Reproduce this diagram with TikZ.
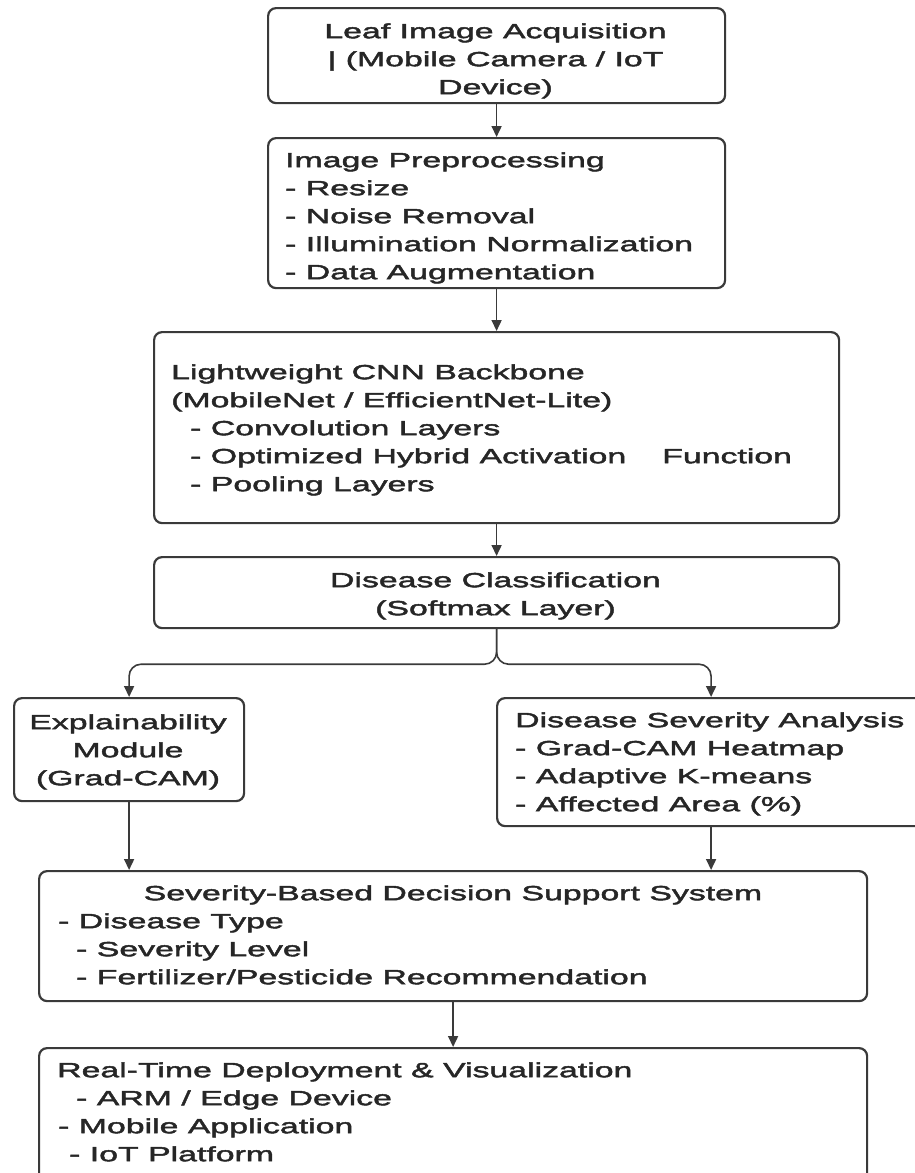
\documentclass[tikz,border=0pt]{standalone}
\usepackage{fontspec}
\setmainfont{Liberation Sans}[FakeStretch=1.65,FakeBold=2.2]
\usetikzlibrary{arrows.meta}
\definecolor{ln}{HTML}{3A3A3A}
\definecolor{tx}{HTML}{262626}
\tikzset{
  box/.style={draw=ln, line width=2.2pt, rounded corners=8pt, inner sep=0pt, anchor=north west},
  txt/.style={text=tx, inner sep=0pt, font=\fontsize{20.5}{28}\selectfont},
  arr/.style={draw=ln, line width=1.6pt, -{Triangle[length=11pt,width=10pt]}},
}
\begin{document}
\begin{tikzpicture}[x=1pt,y=-1pt]
\useasboundingbox (0,0) rectangle (915,1173);
\clip (0,0) rectangle (915,1173);
% boxes
\node[box, minimum width=457pt, minimum height=95pt]  (b1) at (267,7) {};
\node[box, minimum width=457pt, minimum height=150pt] (b2) at (267,137) {};
\node[box, minimum width=685pt, minimum height=191pt] (b3) at (153,331) {};
\node[box, minimum width=685pt, minimum height=71pt]  (b4) at (153,556) {};
\node[box, minimum width=230pt, minimum height=103pt] (b5) at (13,697) {};
\node[box, minimum width=428pt, minimum height=128pt] (b6) at (496,697) {};
\node[box, minimum width=828pt, minimum height=130pt] (b7) at (38,870) {};
\node[box, minimum width=828pt, minimum height=143pt] (b8) at (38,1047) {};
% texts
\node[txt, anchor=north, align=center] (t1) at (495.5,18.4)
  {\strut Leaf Image Acquisition\\\strut | (Mobile Camera / IoT\\\strut Device)};
\node[txt, anchor=north west, align=left] (t2) at (285,147.4)
  {\strut Image Preprocessing\\\strut - Resize\\\strut - Noise Removal\\\strut - Illumination Normalization\\\strut - Data Augmentation};
\node[txt, anchor=north west, align=left] (t3) at (171,359.4)
  {\strut Lightweight CNN Backbone\\\strut (MobileNet / EfficientNet-Lite)\\
   \strut\hspace*{19pt}- Convolution Layers\\
   \strut\hspace*{19pt}- Optimized Hybrid Activation\hspace{36pt}Function\\
   \strut\hspace*{19pt}- Pooling Layers};
\node[txt, anchor=north, align=center] (t4) at (495.5,567.4)
  {\strut Disease Classification\\\strut (Softmax Layer)};
\node[txt, anchor=north, align=center] (t5) at (128,709.4)
  {\strut Explainability\\\strut Module\\\strut (Grad-CAM)};
\node[txt, anchor=north west, align=left] (t6) at (515,707.4)
  {\strut Disease Severity Analysis\\\strut - Grad-CAM Heatmap\\\strut - Adaptive K-means\\\strut - Affected Area (\%)};
\node[txt, anchor=north] (t7a) at (453,880.4) {\strut Severity-Based Decision Support System};
\node[txt, anchor=north west, align=left] (t7b) at (58,908.4)
  {\strut - Disease Type\\\strut\hspace*{18pt}- Severity Level\\\strut\hspace*{18pt}- Fertilizer/Pesticide Recommendation};
\node[txt, anchor=north west, align=left] (t8) at (57,1057.4)
  {\strut Real-Time Deployment \& Visualization\\\strut\hspace*{19pt}- ARM / Edge Device\\\strut\hspace*{1pt}- Mobile Application\\\strut\hspace*{12pt}- IoT Platform};
% connectors
\draw[arr] (b1.south) -- (b2.north);
\draw[arr] (b2.south) -- (b3.north);
\draw[arr] (b3.south) -- (b4.north);
\draw[arr, rounded corners=12pt] (b4.south) -- ++(0,35) -| (b5.north);
\draw[arr, rounded corners=12pt] (b4.south) -- ++(0,35) -| (b6.north);
\draw[arr] (b5.south) -- (b5.south |- b7.north);
\draw[arr] (b6.south) -- (b6.south |- b7.north);
\draw[arr] (b7.south) -- (b8.north);
\end{tikzpicture}
\end{document}
